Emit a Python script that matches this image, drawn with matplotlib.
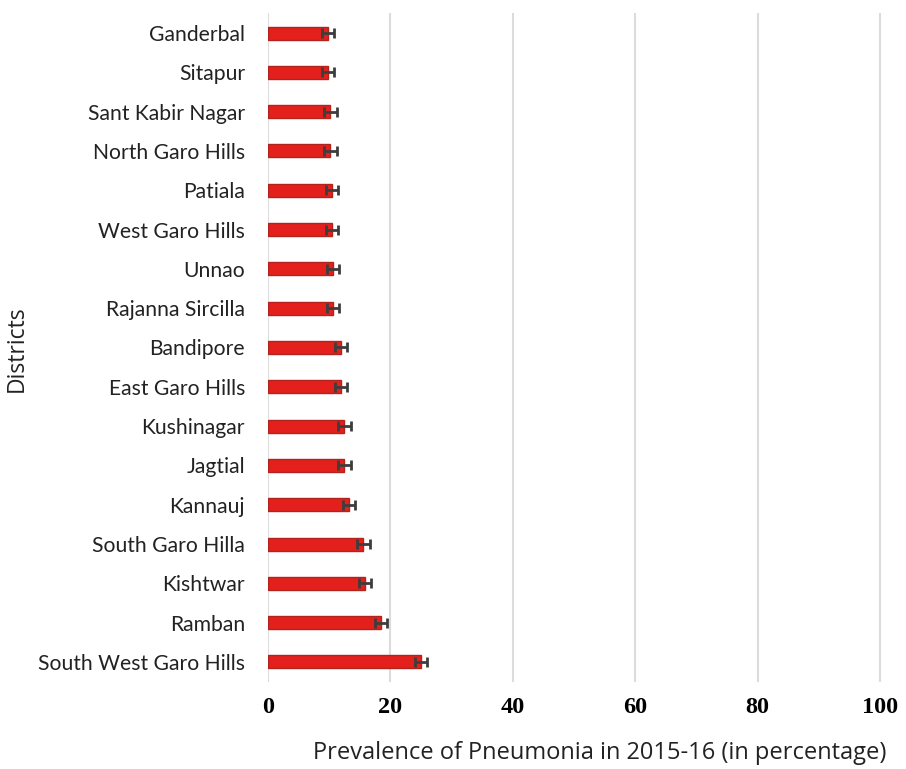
import numpy as np
import matplotlib.pyplot as plt

# District-level prevalence of pneumonia (NFHS-4, 2015-16), percent
districts = ['Ganderbal', 'Sitapur', 'Sant Kabir Nagar', 'North Garo Hills',
             'Patiala', 'West Garo Hills', 'Unnao', 'Rajanna Sircilla',
             'Bandipore', 'East Garo Hills', 'Kushinagar', 'Jagtial',
             'Kannauj', 'South Garo Hilla', 'Kishtwar', 'Ramban',
             'South West Garo Hills']
prevalence = [9.8, 9.8, 10.2, 10.2, 10.4, 10.5, 10.6, 10.6,
              11.9, 11.9, 12.5, 12.5, 13.2, 15.6, 15.9, 18.5, 25.0]
error = [1.0, 1.0, 1.0, 1.0, 1.0, 1.0, 1.0, 1.0,
         1.0, 1.0, 1.0, 1.0, 1.0, 1.0, 1.0, 1.0, 1.0]
xticks = [0, 20, 40, 60, 80, 100]

fig = plt.figure(figsize=(9.06, 7.69), dpi=100)
ax = fig.add_axes([268 / 906, 1 - 681.6 / 769, 615 / 906, 668.2 / 769])

y = np.arange(len(districts))
ax.barh(y, prevalence, height=0.33, color='#e3201b', edgecolor='#b3231d',
        linewidth=1.0, zorder=3)
ax.errorbar(prevalence, y, xerr=error, fmt='none', ecolor='#3d3d3d',
            elinewidth=2.0, capsize=3.5, capthick=2.0, zorder=4)

ax.set_ylim(len(districts) - 0.5, -0.5)
ax.set_xlim(0, 100.5)
ax.set_yticks(y)
ax.set_yticklabels(districts, fontfamily='Lato', fontsize=15.2, color='#222222')
ax.set_xticks(xticks)
ax.set_xticklabels([str(t) for t in xticks], fontfamily='Liberation Serif',
                   fontweight='bold', fontsize=17.5)

ax.tick_params(axis='y', length=0, pad=16.5)
ax.tick_params(axis='x', length=0, pad=11)
ax.grid(axis='x', color='#dcdcdc', linewidth=1.5, zorder=0)
for side in ax.spines.values():
    side.set_visible(False)

fig.text(600 / 906, 1 - 753 / 769, 'Prevalence of Pneumonia in 2015-16 (in percentage)',
         ha='center', va='center', fontfamily='Open Sans', fontsize=17, color='#222222')
fig.text(17 / 906, 1 - 349 / 769, 'Districts', rotation=90,
         ha='center', va='center', fontfamily='Open Sans', fontsize=16.5, color='#222222')

fig.savefig('out.png', dpi=100, facecolor='white')
